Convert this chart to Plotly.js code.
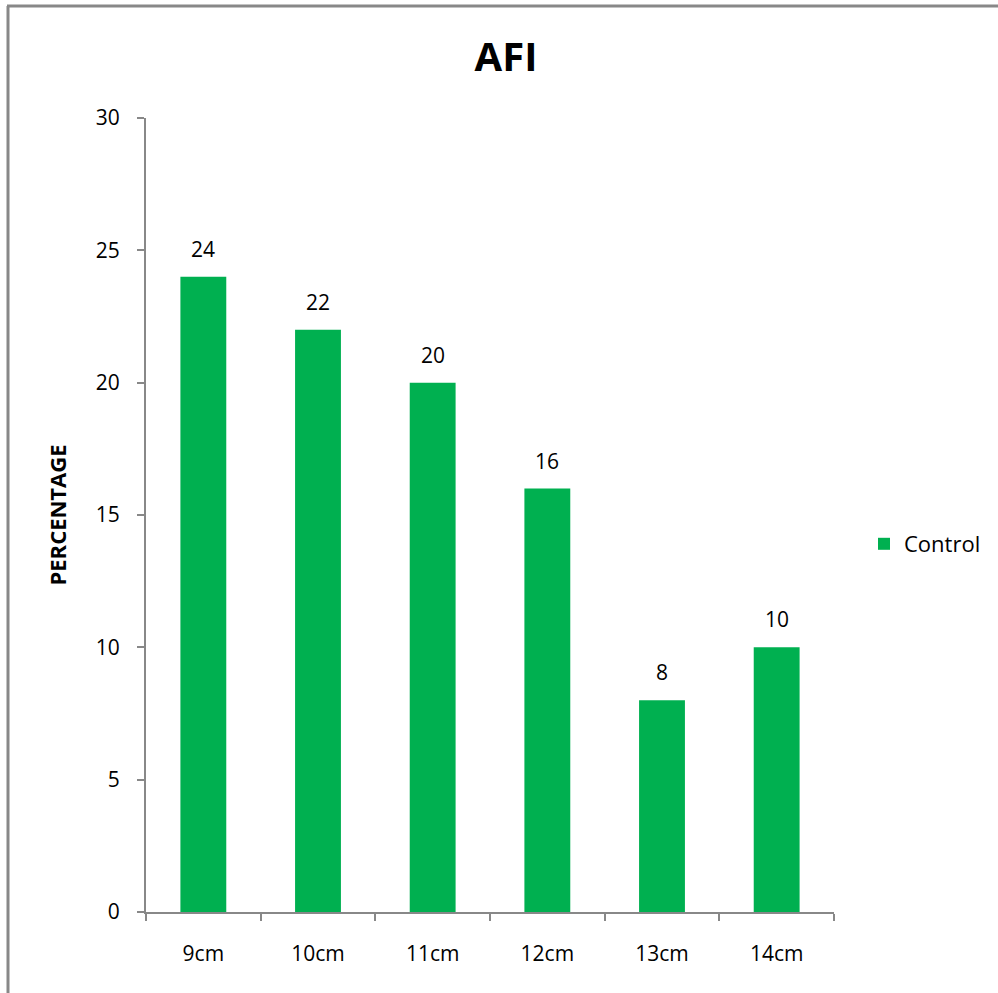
<!DOCTYPE html>
<html>
<head>
<meta charset="utf-8">
<script src="https://cdn.plot.ly/plotly-3.0.1.min.js"></script>
<style>html,body{margin:0;padding:0;background:#fff;}#chart{width:998px;height:993px;}</style>
</head>
<body>
<div id="chart"></div>
<script>
const categories = ["9cm", "10cm", "11cm", "12cm", "13cm", "14cm"];
const controlValues = [24, 22, 20, 16, 8, 10];
const seriesName = "Control";
const yTicks = [0, 5, 10, 15, 20, 25, 30];

const W = 998, H = 993;
const L = 146, R = 834, T = 118, B = 912;
const pw = R - L, ph = B - T;
const px = x => (x - L) / pw;
const py = y => (B - y) / ph;

const font = 'Open Sans, Liberation Sans, sans-serif';

const trace = {
  type: 'bar',
  x: categories,
  y: controlValues,
  name: seriesName,
  marker: {color: '#00B050'},
  width: 0.4,
  showlegend: true
};

const annotations = categories.map((c, i) => ({
  x: c, y: controlValues[i], xref: 'x', yref: 'y',
  text: String(controlValues[i]), showarrow: false,
  yanchor: 'bottom', yshift: 12,
  font: {family: font, size: 21, color: '#000'}
}));

const layout = {
  width: W, height: H,
  margin: {l: L, r: W - R, t: T, b: H - B, pad: 0},
  paper_bgcolor: '#fff', plot_bgcolor: '#fff',
  font: {family: font, size: 21, color: '#000'},
  title: {text: '<b>AFI</b>', font: {family: font, size: 40, color: '#000'}, x: 506 / W, xanchor: 'center', y: 1 - 57 / H, yanchor: 'middle'},
  xaxis: {
    type: 'category', showgrid: false, zeroline: false,
    showline: true, linecolor: '#888', linewidth: 2,
    ticks: 'outside', ticklen: 7, tickcolor: '#888', tickwidth: 2,
    tickson: 'boundaries', ticklabelstandoff: 22,
    tickfont: {family: font, size: 21, color: '#000'}
  },
  yaxis: {
    range: [0, 30], tickvals: yTicks, showgrid: false, zeroline: false,
    showline: true, linecolor: '#888', linewidth: 2,
    ticks: 'outside', ticklen: 7, tickcolor: '#888', tickwidth: 2,
    ticklabelstandoff: 13,
    tickfont: {family: font, size: 21, color: '#000'},
    title: {text: '<b>PERCENTAGE</b>', font: {family: font, size: 22, color: '#000'}, standoff: 23}
  },
  legend: {x: px(864), xanchor: 'left', y: py(544), yanchor: 'middle', font: {family: font, size: 22, color: '#000'}, bgcolor: 'rgba(0,0,0,0)', itemwidth: 30},
  annotations: annotations,
  shapes: [
    {type: 'line', xref: 'paper', yref: 'paper', x0: px(8), x1: px(8), y0: py(6), y1: py(1000), line: {color: '#888', width: 3}},
    {type: 'line', xref: 'paper', yref: 'paper', x0: px(7), x1: px(1000), y0: py(6), y1: py(6), line: {color: '#888', width: 3}}
  ]
};

Plotly.newPlot('chart', [trace], layout, {displayModeBar: false, staticPlot: true});
</script>
</body>
</html>
